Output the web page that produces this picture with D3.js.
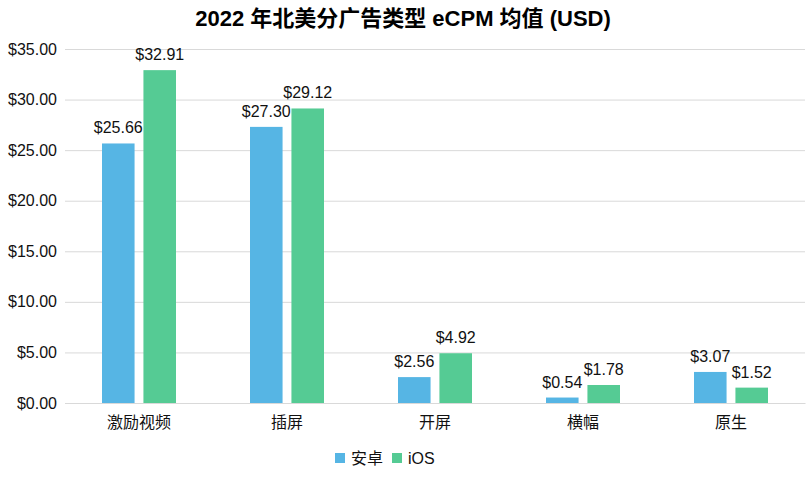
<!DOCTYPE html>
<html><head><meta charset="utf-8">
<script src="https://cdn.jsdelivr.net/npm/d3@7"></script>
<style>body{margin:0;background:#fff}</style>
</head><body>
<svg id="c" width="809" height="487"></svg>
<script>
const categories = ["激励视频","插屏","开屏","横幅","原生"];
const seriesNames = ["安卓","iOS"];
const android = [25.66,27.30,2.56,0.54,3.07];
const ios = [32.91,29.12,4.92,1.78,1.52];
const yTicks = [0,5,10,15,20,25,30,35];
const colors = ["#56B5E4","#55CB94"];
const title = "2022 年北美分广告类型 eCPM 均值 (USD)";

const font = "Arial, 'Liberation Sans', 'Noto Sans CJK SC', sans-serif";
const svg = d3.select("#c");
const m = {l:65, r:4, t:49, b:84};
const W = 809, H = 487;
const x = d3.scaleBand().domain(categories).range([m.l, W-m.r]).paddingInner(0).paddingOuter(0);
const y = d3.scaleLinear().domain([0,35]).range([H-m.b, m.t]);
const xs = d3.scaleBand().domain(seriesNames).range([37, 111]).paddingInner(0.214);

svg.append("text").attr("x", 403).attr("y", 26).attr("text-anchor","middle")
  .style("font-family", font).style("font-weight","bold").style("font-size","22px")
  .attr("fill","#000").text(title);

const ya = svg.append("g").attr("transform",`translate(${m.l},0)`)
  .call(d3.axisLeft(y).tickValues(yTicks).tickSize(-(W-m.l-m.r)).tickFormat(d=>"$"+d3.format(".2f")(d)).tickPadding(7));
ya.select(".domain").remove();
ya.selectAll(".tick line").attr("stroke","#d9d9d9");
ya.selectAll(".tick text").style("font-family",font).style("font-size","16px").attr("fill","#111").attr("x",-8);

const xa = svg.append("g").attr("transform",`translate(0,${H-m.b})`)
  .call(d3.axisBottom(x).tickSize(0).tickPadding(14));
xa.select(".domain").attr("stroke","#d9d9d9");
xa.selectAll(".tick text").style("font-family",font).style("font-size","16px").attr("fill","#111");

const data = categories.map((c,i)=>({c, v:[android[i], ios[i]]}));
const g = svg.selectAll(".grp").data(data).join("g").attr("transform",d=>`translate(${x(d.c)},0)`);
g.selectAll("rect").data(d=>d.v.map((v,j)=>({s:seriesNames[j],v,j}))).join("rect")
  .attr("x",d=>xs(d.s)).attr("width",xs.bandwidth())
  .attr("y",d=>y(d.v)).attr("height",d=>y(0)-y(d.v)).attr("fill",d=>colors[d.j]);
g.selectAll("text.val").data(d=>d.v.map((v,j)=>({s:seriesNames[j],v,j}))).join("text")
  .attr("class","val").attr("x",d=>xs(d.s)+xs.bandwidth()/2).attr("y",d=>y(d.v)-10)
  .attr("text-anchor","middle").style("font-family",font).style("font-size","16px").attr("fill","#111")
  .text(d=>"$"+d3.format(".2f")(d.v));

const lg = svg.append("g");
const lx = [335, 392];
seriesNames.forEach((s,i)=>{
  lg.append("rect").attr("x",lx[i]).attr("y",453).attr("width",10).attr("height",10).attr("fill",colors[i]);
  lg.append("text").attr("x",lx[i]+16).attr("y",464).style("font-family",font).style("font-size","16px").attr("fill","#111").text(s);
});
</script>
</body></html>
